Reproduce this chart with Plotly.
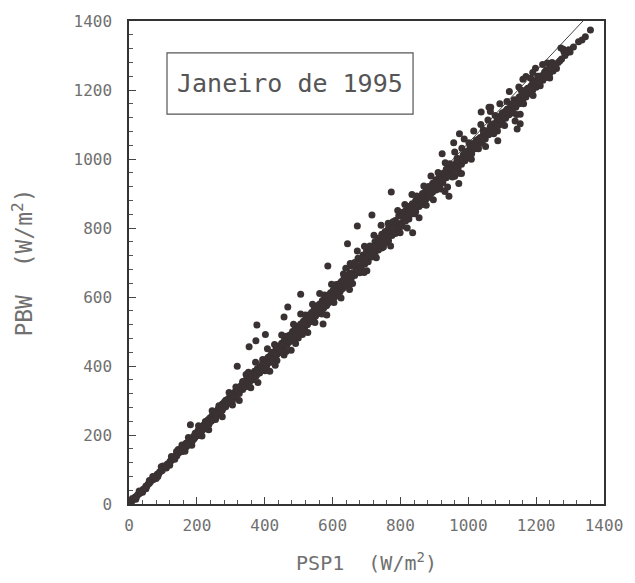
import plotly.graph_objects as go

# ---- data (W/m^2) ----
psp1_a = [5, 8, 12, 15, 18, 22, 25, 28, 32, 35, 38, 42, 46, 50, 53, 57, 60, 64, 68, 72,
          75, 79, 83, 87, 90, 94, 98, 102, 106, 110, 113, 117, 121, 125, 129, 133, 137, 141, 145, 149,
          60, 80, 100, 120, 140,
          10, 20, 30, 40, 50, 70, 85, 95, 110, 125, 135, 145]
pbw_a = [6, 7, 13, 15, 20, 21, 26, 29, 31, 37, 38, 43, 45, 52, 52, 59, 60, 65, 70, 71,
         78, 79, 86, 86, 93, 95, 97, 105, 107, 110, 116, 116, 124, 126, 131, 133, 140, 140, 148, 150,
         68, 74, 110, 112, 152,
         16, 14, 38, 34, 44, 80, 80, 108, 104, 138, 130, 158]

psp1_b = [152, 155, 158, 160, 163, 166, 168, 171, 174, 177, 179, 181, 184, 187, 190, 192, 195, 198, 201, 204,
          206, 209, 212, 215, 218, 221, 224, 227, 230, 233, 236, 239, 242, 245, 248, 251, 254, 257, 260, 263,
          266, 269, 272, 275, 278, 281, 284, 287, 290, 293, 296, 299, 302, 305, 308, 311, 314, 317, 320, 323,
          326, 329, 332, 335, 338, 341, 344, 347,
          156, 165, 175, 185, 195, 205, 215, 225, 235, 245, 255, 265, 275, 285, 295, 305, 315, 325, 335, 345]
pbw_b = [160, 152, 165, 158, 170, 162, 176, 168, 180, 175, 186, 178, 190, 183, 196, 189, 200, 206, 198, 214,
         205, 218, 210, 225, 216, 230, 222, 238, 226, 244, 232, 250, 240, 256, 246, 262, 252, 268, 258, 276,
         264, 282, 270, 290, 278, 296, 286, 300, 292, 306, 298, 312, 304, 318, 310, 324, 318, 330, 322, 336,
         330, 342, 334, 350, 340, 356, 346, 362,
         171, 153, 193, 170, 205, 227, 197, 239, 215, 270, 245, 285, 253, 301, 323, 287, 339, 300, 355, 375]

psp1_c = [350, 354, 358, 362, 366, 370, 374, 378, 382, 386, 390, 394, 398, 402, 406, 410, 414, 418, 422, 426,
          430, 434, 438, 442, 446, 450, 454, 458, 462, 466, 470, 474, 478, 482, 486, 490, 494, 498, 502, 506,
          510, 514, 518, 522, 526, 530, 534, 538, 542, 546, 550, 554, 558, 562, 566, 570, 574, 578, 582, 586,
          590, 594, 598, 602, 606, 610, 614, 618, 622, 626, 630, 634, 638, 642, 646, 650,
          352, 359, 366, 373, 380, 387, 394, 401, 408, 415, 422, 429, 436, 443, 450, 457, 464, 471, 478, 485,
          492, 499, 506, 513, 520, 527, 534, 541, 548, 555, 562, 569, 576, 583, 590, 597, 604, 611, 618, 625,
          632, 639, 646]
pbw_c = [352, 370, 360, 378, 364, 385, 372, 392, 380, 398, 388, 410, 395, 418, 402, 425, 410, 432, 420, 440,
         428, 452, 436, 458, 444, 466, 448, 475, 460, 482, 468, 490, 475, 500, 482, 508, 490, 515, 498, 522,
         505, 530, 512, 540, 520, 548, 528, 555, 536, 565, 545, 572, 552, 580, 560, 590, 568, 598, 575, 605,
         585, 612, 592, 620, 600, 630, 608, 638, 615, 645, 625, 655, 632, 662, 640, 668,
         382, 337, 378, 411, 352, 392, 419, 386, 450, 385, 440, 462, 416, 451, 490, 432, 486, 473, 446, 521,
         507, 481, 551, 505, 548, 497, 544, 579, 526, 575, 610, 557, 606, 548, 604, 637, 584, 636, 623, 597,
         667, 683, 631]

psp1_d = [655, 660, 665, 670, 675, 680, 685, 690, 695, 700, 705, 710, 715, 720, 725, 730, 735, 740, 745, 750,
          755, 760, 765, 770, 775, 780, 785, 790, 795, 800, 805, 810, 815, 820, 825, 830, 835, 840, 845, 850,
          855, 860, 865, 870, 875, 880, 885, 890, 895, 900, 905, 910, 915, 920, 925, 930, 935, 940, 945, 950,
          652, 659, 666, 673, 680, 687, 694, 701, 708, 715, 722, 729, 736, 743, 750, 757, 764, 771, 778, 785,
          792, 799, 806, 813, 820, 827, 834, 841, 848, 855, 862, 869, 876, 883, 890, 897, 904, 911, 918, 925,
          932, 939, 946]
pbw_d = [690, 668, 700, 680, 712, 690, 705, 722, 700, 735, 715, 748, 725, 742, 760, 738, 770, 750, 782, 760,
         790, 772, 800, 780, 812, 792, 822, 800, 835, 812, 845, 820, 850, 835, 862, 845, 870, 852, 880, 862,
         890, 870, 900, 880, 910, 895, 918, 900, 930, 912, 940, 920, 950, 930, 958, 945, 970, 955, 978, 962,
         697, 639, 696, 733, 670, 710, 747, 676, 745, 720, 779, 714, 769, 808, 745, 777, 814, 748, 818, 795,
         851, 786, 833, 868, 800, 862, 897, 841, 893, 830, 887, 922, 866, 920, 951, 882, 934, 961, 913, 948,
         989, 919, 986]

psp1_e = [955, 960, 965, 970, 975, 980, 985, 990, 995, 1000, 1005, 1010, 1015, 1020, 1025, 1030, 1035, 1040, 1045, 1050,
          1055, 1060, 1065, 1070, 1075, 1080, 1085, 1090, 1095, 1100, 1105, 1110, 1115, 1120, 1125, 1130, 1135, 1140, 1145, 1150,
          1155, 1160, 1165, 1170, 1175, 1180, 1185, 1190, 1195, 1200, 1205, 1210, 1215, 1220, 1225, 1230, 1235, 1240, 1245, 1250,
          953, 960, 967, 974, 981, 988, 995, 1002, 1009, 1016, 1023, 1030, 1037, 1044, 1051, 1058, 1065, 1072, 1079, 1086,
          1093, 1100, 1107, 1114, 1121, 1128, 1135, 1142, 1149, 1156, 1163, 1170, 1177, 1184, 1191, 1198, 1205, 1212, 1219, 1226,
          1233, 1240, 1247]
pbw_e = [975, 950, 990, 972, 1000, 985, 1012, 995, 1022, 1005, 1035, 1015, 1045, 1030, 1055, 1040, 1062, 1048, 1075, 1058,
         1082, 1070, 1095, 1080, 1102, 1090, 1112, 1098, 1125, 1110, 1135, 1118, 1145, 1128, 1155, 1138, 1165, 1150, 1172, 1160,
         1182, 1170, 1195, 1180, 1205, 1190, 1212, 1200, 1225, 1208, 1235, 1218, 1240, 1228, 1252, 1238, 1258, 1248, 1265, 1255,
         948, 1020, 1002, 959, 1031, 1058, 1005, 1047, 999, 1081, 1053, 1030, 1100, 1084, 1036, 1113, 1138, 1087, 1126, 1081,
         1160, 1133, 1097, 1167, 1196, 1133, 1172, 1129, 1209, 1199, 1160, 1239, 1197, 1234, 1184, 1263, 1240, 1212, 1274, 1236,
         1278, 1235, 1280]

psp1_f = [1255, 1260, 1265, 1270, 1275, 1280, 1285, 1290, 1296, 1300, 1310, 1325, 1335, 1345, 1360,
          1273, 1282, 1248, 1190, 1161]
pbw_f = [1270, 1262, 1280, 1285, 1290, 1318, 1300, 1308, 1317, 1310, 1325, 1340, 1345, 1354, 1374,
         1322, 1311, 1274, 1251, 1231]

# dense core of the band
psp1_core1 = [150, 160, 170, 180, 190, 200, 210, 220, 230, 240,
              250, 260, 270, 280, 290, 300, 310, 320, 330, 340,
              350, 360, 370, 380, 390, 400, 410, 420, 430, 440,
              450, 460, 470, 480, 490, 500, 510, 520, 530, 540,
              550, 560, 570, 580, 590, 600, 610, 620, 630, 640,
              650, 660, 670, 680, 690, 700, 710, 720, 730, 740,
              750, 760, 770, 780, 790, 800, 810, 820, 830, 840,
              850, 860, 870, 880, 890, 900, 910, 920, 930, 940,
              950, 960, 970, 980, 990, 1000, 1010, 1020, 1030, 1040,
              1050, 1060, 1070, 1080, 1090, 1100, 1110, 1120, 1130, 1140,
              1150, 1160, 1170, 1180, 1190, 1200, 1210, 1220, 1230, 1240,
              1250]
pbw_core1 = [154, 158, 175, 181, 193, 202, 214, 222, 235, 243,
             254, 262, 276, 284, 296, 303, 317, 324, 337, 344,
             358, 364, 378, 385, 399, 404, 419, 425, 440, 446,
             460, 467, 481, 486, 500, 508, 521, 527, 542, 548,
             562, 568, 583, 589, 603, 608, 624, 630, 645, 650,
             665, 670, 686, 690, 706, 712, 727, 731, 748, 752,
             768, 772, 789, 793, 810, 813, 830, 834, 851, 854,
             872, 875, 892, 896, 913, 916, 934, 937, 955, 958,
             975, 978, 996, 998, 1016, 1019, 1037, 1040, 1057, 1060,
             1078, 1080, 1098, 1101, 1119, 1121, 1139, 1142, 1160, 1162,
             1180, 1183, 1200, 1203, 1221, 1223, 1240, 1243, 1258, 1262,
             1275]
psp1_core2 = [155, 165, 175, 185, 195, 205, 215, 225, 235, 245,
              255, 265, 275, 285, 295, 305, 315, 325, 335, 345,
              355, 365, 375, 385, 395, 405, 415, 425, 435, 445,
              455, 465, 475, 485, 495, 505, 515, 525, 535, 545,
              555, 565, 575, 585, 595, 605, 615, 625, 635, 645,
              655, 665, 675, 685, 695, 705, 715, 725, 735, 745,
              755, 765, 775, 785, 795, 805, 815, 825, 835, 845,
              855, 865, 875, 885, 895, 905, 915, 925, 935, 945,
              955, 965, 975, 985, 995, 1005, 1015, 1025, 1035, 1045,
              1055, 1065, 1075, 1085, 1095, 1105, 1115, 1125, 1135, 1145,
              1155, 1165, 1175, 1185, 1195, 1205, 1215, 1225, 1235, 1245]
pbw_core2 = [152, 164, 173, 184, 194, 205, 213, 224, 232, 243,
             252, 262, 272, 282, 293, 300, 312, 320, 332, 340,
             352, 360, 372, 380, 392, 400, 412, 420, 432, 440,
             452, 460, 472, 480, 492, 500, 512, 520, 532, 540,
             552, 560, 572, 580, 592, 600, 614, 622, 634, 642,
             654, 662, 676, 682, 696, 702, 716, 722, 736, 742,
             757, 763, 778, 784, 799, 805, 820, 826, 841, 847,
             862, 868, 883, 889, 904, 910, 925, 931, 946, 952,
             967, 973, 988, 994, 1009, 1015, 1030, 1036, 1051, 1057,
             1072, 1078, 1093, 1099, 1114, 1120, 1135, 1141, 1156, 1162,
             1177, 1183, 1198, 1204, 1219, 1225, 1240, 1246, 1258, 1266]

# scattered points away from the main band
psp1_out = [181, 377, 402, 354, 374, 319, 431, 491, 511, 506, 468, 457, 572, 569, 463, 586,
            650, 693, 773, 716, 673, 644, 836, 828, 943, 972, 980, 931, 957, 923,
            1153, 1144, 1087, 1066, 1153, 1038, 974, 1075, 1138, 1061]
pbw_out = [230, 519, 491, 456, 473, 399, 402, 465, 491, 608, 571, 542, 522, 551, 442, 690,
           622, 671, 904, 838, 806, 754, 786, 849, 892, 929, 958, 906, 1047, 1015,
           1102, 1087, 1053, 1150, 1130, 1136, 1073, 1073, 1110, 1150]

psp1 = psp1_a + psp1_b + psp1_c + psp1_d + psp1_e + psp1_f + psp1_core1 + psp1_core2 + psp1_out
pbw = pbw_a + pbw_b + pbw_c + pbw_d + pbw_e + pbw_f + pbw_core1 + pbw_core2 + pbw_out

# fitted line shown on the chart
fit_x = [0, 1338]
fit_y = [0, 1400]

ink = "#3a3232"
grey = "#707070"
mono = "DejaVu Sans Mono"

fig = go.Figure()
fig.add_trace(go.Scatter(x=fit_x, y=fit_y, mode="lines",
                         line=dict(color="#444", width=1), hoverinfo="skip"))
fig.add_trace(go.Scatter(x=psp1, y=pbw, mode="markers",
                         marker=dict(color=ink, size=7, line=dict(width=0))))

axis_common = dict(
    range=[0, 1400], dtick=200, tick0=0, ticks="inside", ticklen=7, tickwidth=1,
    tickcolor="#444", showline=True, linecolor="#333", linewidth=1.5, mirror=True,
    showgrid=False, zeroline=False, ticklabeloverflow="allow",
    tickfont=dict(family=mono, size=16, color=grey),
    minor=dict(dtick=40, ticks="inside", ticklen=4, tickcolor="#555", showgrid=False),
)

fig.update_layout(
    width=635, height=583,
    margin=dict(l=129, r=19, t=16, b=79),
    plot_bgcolor="white", paper_bgcolor="white",
    showlegend=False,
    xaxis=dict(**axis_common, ticklabelstandoff=6,
               title=dict(text="PSP1  (W/m<sup>2</sup>)", font=dict(family=mono, size=20, color=grey),
                          standoff=22)),
    yaxis=dict(**axis_common, ticklabelstandoff=12,
               title=dict(text="PBW  (W/m<sup>2</sup>)", font=dict(family=mono, size=23, color=grey),
                          standoff=34)),
    shapes=[dict(type="rect", xref="paper", yref="paper", x0=0.080, x1=0.598, y0=0.807, y1=0.934,
                 line=dict(color="#555", width=1.2), fillcolor="rgba(0,0,0,0)")],
    annotations=[dict(text="Janeiro de 1995", xref="paper", yref="paper", x=0.339, y=0.871,
                      showarrow=False, xanchor="center", yanchor="middle",
                      font=dict(family=mono, size=25, color="#555"))],
)

fig.write_html("out.html")
